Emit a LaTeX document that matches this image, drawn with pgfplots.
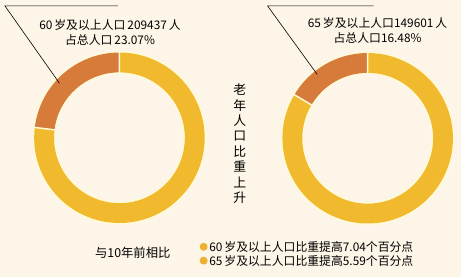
\documentclass[border=0pt]{standalone}
\usepackage{pgfplots}
\pgfplotsset{compat=1.18}
\usepackage{fontspec}
\setmainfont{Noto Sans CJK SC}
\definecolor{bg}{RGB}{253,245,231}
\definecolor{ringO}{RGB}{214,123,58}
\definecolor{ringY}{RGB}{241,186,46}
\definecolor{glow}{RGB}{255,250,215}
% shares (percent of total population)
\def\shareA{23.07}
\def\shareB{16.48}
\begin{document}
\begin{tikzpicture}
\begin{axis}[
  width=465bp, height=280bp, scale only axis,
  xmin=0, xmax=465, ymin=0, ymax=280,
  hide axis, clip=false,
]
% background
\fill[bg] (axis cs:0,0) rectangle (axis cs:465,280);
% ---------- left donut (60+) ----------
\pgfmathsetmacro{\eA}{90+3.6*\shareA}
\fill[glow, shift={(axis cs:120.5,141)}] (0:87.5bp) arc[start angle=0,end angle=360,radius=87.5bp] -- (0:64.5bp) arc[start angle=360,end angle=0,radius=64.5bp] -- cycle;
\fill[ringY, shift={(axis cs:120.5,141)}] (\eA:86bp) arc[start angle=\eA,end angle=450,radius=86bp] -- (90:66bp) arc[start angle=450,end angle=\eA,radius=66bp] -- cycle;
\fill[ringO, shift={(axis cs:120.5,141)}] (90:86bp) arc[start angle=90,end angle=\eA,radius=86bp] -- (\eA:66bp) arc[start angle=\eA,end angle=90,radius=66bp] -- cycle;
\draw[glow, line width=1.5bp, shift={(axis cs:120.5,141)}] (90:65bp) -- (90:87bp) (\eA:65bp) -- (\eA:87bp);
% ---------- right donut (65+) ----------
\pgfmathsetmacro{\eB}{90+3.6*\shareB}
\fill[glow, shift={(axis cs:371,140.5)}] (0:87.5bp) arc[start angle=0,end angle=360,radius=87.5bp] -- (0:64.5bp) arc[start angle=360,end angle=0,radius=64.5bp] -- cycle;
\fill[ringY, shift={(axis cs:371,140.5)}] (\eB:86bp) arc[start angle=\eB,end angle=450,radius=86bp] -- (90:66bp) arc[start angle=450,end angle=\eB,radius=66bp] -- cycle;
\fill[ringO, shift={(axis cs:371,140.5)}] (90:86bp) arc[start angle=90,end angle=\eB,radius=86bp] -- (\eB:66bp) arc[start angle=\eB,end angle=90,radius=66bp] -- cycle;
\draw[glow, line width=1.5bp, shift={(axis cs:371,140.5)}] (90:65bp) -- (90:87bp) (\eB:65bp) -- (\eB:87bp);
% ---------- callout lines ----------
\draw[black, line width=0.6bp] (axis cs:119,274) -- (axis cs:5,274) -- (axis cs:60,196);
\draw[black, line width=0.6bp] (axis cs:377,274) -- (axis cs:270,274) -- (axis cs:320,205);
% ---------- labels ----------
\node[font=\fontsize{12}{15}\selectfont, align=center, inner sep=0pt] at (axis cs:111,247) {60\,岁及以上人口\,209437\,人\\占总人口\,23.07\%};
\node[font=\fontsize{12}{15}\selectfont, align=center, inner sep=0pt] at (axis cs:381,249) {65\,岁及以上人口149601\,人\\占总人口16.48\%};
\node[font=\fontsize{13}{15.6}\selectfont, align=center, inner sep=0pt] at (axis cs:242,135) {老\\年\\人\\口\\比\\重\\上\\升};
\node[font=\fontsize{12.5}{14}\selectfont, inner sep=0pt] at (axis cs:134,25) {与10年前相比};
\fill[ringY!85!ringO] (axis cs:205.5,31) circle[radius=4bp];
\fill[ringY!85!ringO] (axis cs:205.5,17) circle[radius=4bp];
\node[font=\fontsize{12}{14}\selectfont, anchor=west, inner sep=0pt] at (axis cs:211,31) {60\,岁及以上人口比重提高7.04个百分点};
\node[font=\fontsize{12}{14}\selectfont, anchor=west, inner sep=0pt] at (axis cs:211,17) {65\,岁及以上人口比重提高5.59个百分点};
\end{axis}
\end{tikzpicture}
\end{document}
